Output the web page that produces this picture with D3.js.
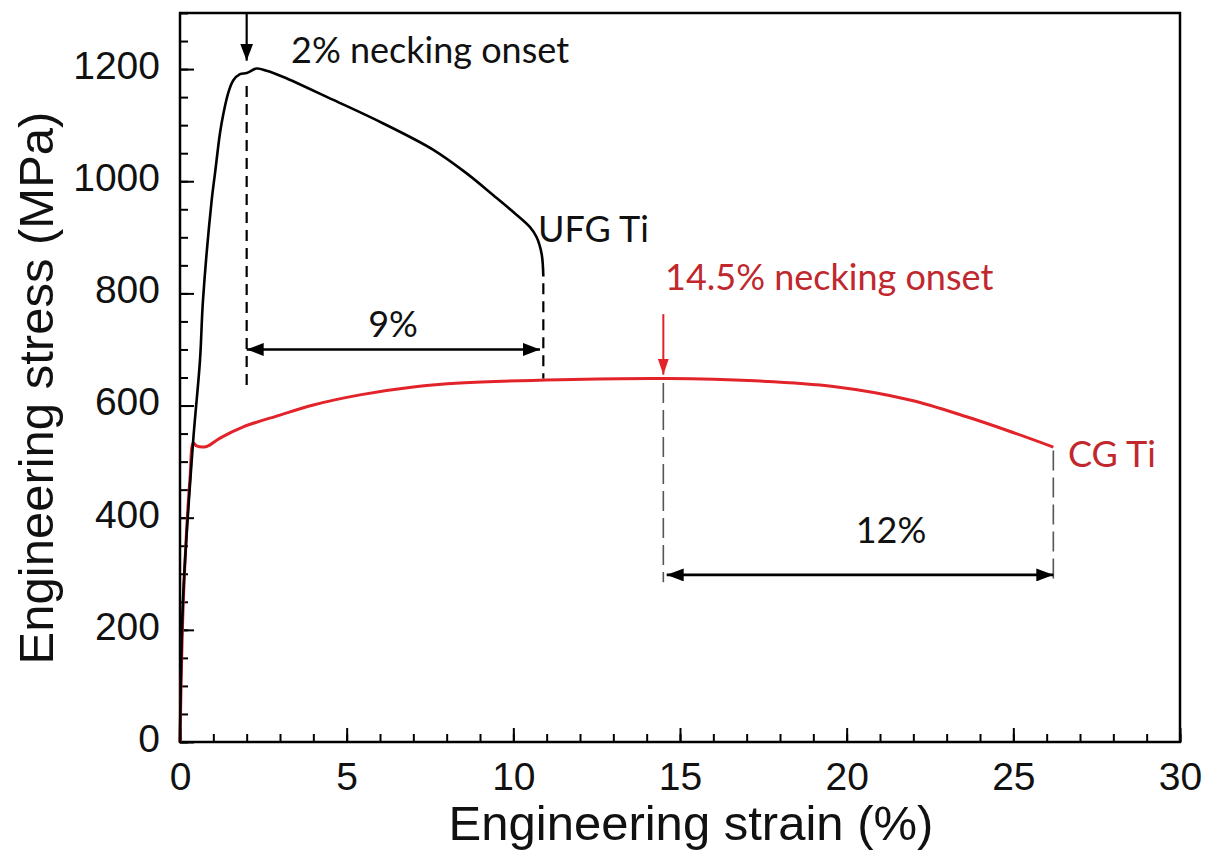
<!DOCTYPE html>
<html>
<head>
<meta charset="utf-8">
<script src="https://cdn.jsdelivr.net/npm/d3@7"></script>
<style>
  body { margin: 0; background: #fff; }
  svg { display: block; }
</style>
</head>
<body>
<svg id="chart" width="1207" height="858"></svg>
<script>
// stress-strain curves, UFG Ti vs CG Ti

const ufgStrain = [0, 0.09, 0.39, 0.6, 0.69, 0.95, 1.05, 1.2, 1.3, 1.45, 1.6, 1.8, 2.0, 2.3, 2.6, 3.1, 4.6, 6.1, 7.6, 8.6, 9.4, 10.0, 10.5, 10.7, 10.85, 10.9];
const ufgStress = [0, 253, 533, 681, 788, 966, 1014, 1086, 1120, 1158, 1180, 1191, 1193, 1201, 1197, 1186, 1145, 1103, 1056, 1014, 975, 945, 918, 900, 870, 830];

const cgStrain = [0, 0.05, 0.1, 0.2, 0.3, 0.4, 0.5, 0.8, 1.2, 1.9, 3.0, 4.0, 5.4, 7.0, 8.4, 11.4, 14.6, 17.25, 19.6, 21.9, 23.6, 24.8, 26.2];
const cgStress = [0, 150, 253, 380, 470, 533, 528, 527, 542, 562, 583, 601, 619, 633, 640, 646, 648, 644, 634, 610, 580, 556, 526];

const xTicks = [0, 5, 10, 15, 20, 25, 30];
const yTicks = [0, 200, 400, 600, 800, 1000, 1200];

// annotation positions (strain %)
const ufgNeck = 2, ufgEnd = 10.9;
const cgNeck = 14.5, cgEnd = 26.2;

const redLine = '#e2232a';
const redText = '#c0282e';

const svg = d3.select('#chart');
const x = d3.scaleLinear().domain([0, 30]).range([180, 1180]);
const y = d3.scaleLinear().domain([0, 1300]).range([742, 13]);

const defs = svg.append('defs');
function marker(id, color, w, h) {
  defs.append('marker')
    .attr('id', id)
    .attr('viewBox', `0 0 ${w} ${h}`)
    .attr('refX', w)
    .attr('refY', h / 2)
    .attr('markerWidth', w)
    .attr('markerHeight', h)
    .attr('markerUnits', 'userSpaceOnUse')
    .attr('orient', 'auto-start-reverse')
    .append('path')
    .attr('d', `M0,0L${w},${h / 2}L0,${h}Z`)
    .attr('fill', color);
}
marker('arrBlack', '#000', 17, 13);
marker('arrRed', redLine, 16, 11);

// axes with inward ticks
svg.append('g')
  .attr('transform', `translate(0,${y(0)})`)
  .call(d3.axisBottom(x).tickValues(d3.range(0, 31, 1)).tickSize(-8).tickFormat(''))
  .call(g => g.select('.domain').remove());
svg.append('g')
  .attr('transform', `translate(${x(0)},0)`)
  .call(d3.axisLeft(y).tickValues(d3.range(0, 1301, 50)).tickSize(-8).tickFormat(''))
  .call(g => g.select('.domain').remove());

const xAxis = svg.append('g')
  .attr('transform', `translate(0,${y(0)})`)
  .call(d3.axisBottom(x).tickValues(xTicks).tickSize(-14).tickPadding(20).tickFormat(d3.format('d')))
  .call(g => g.select('.domain').remove());
const yAxis = svg.append('g')
  .attr('transform', `translate(${x(0)},0)`)
  .call(d3.axisLeft(y).tickValues(yTicks).tickSize(-14).tickPadding(20).tickFormat(d3.format('d')))
  .call(g => g.select('.domain').remove());

[xAxis, yAxis].forEach(g => {
  g.selectAll('text')
    .attr('font-family', '"Liberation Sans", Arial, sans-serif')
    .attr('font-size', 39)
    .attr('fill', '#111');
});
svg.selectAll('.tick line').attr('stroke', '#000').attr('stroke-width', 2);
yAxis.selectAll('text').attr('dy', '0.24em');

svg.append('rect')
  .attr('x', x(0)).attr('y', y(1300))
  .attr('width', x(30) - x(0)).attr('height', y(0) - y(1300))
  .attr('fill', 'none').attr('stroke', '#000').attr('stroke-width', 2.5);

svg.append('text')
  .attr('x', 691).attr('y', 840)
  .attr('text-anchor', 'middle')
  .attr('font-family', '"Liberation Sans", Arial, sans-serif')
  .attr('font-size', 49)
  .attr('fill', '#111')
  .text('Engineering strain (%)');

svg.append('text')
  .attr('transform', 'translate(53,388) rotate(-90)')
  .attr('text-anchor', 'middle')
  .attr('font-family', '"Liberation Sans", Arial, sans-serif')
  .attr('font-size', 49)
  .attr('fill', '#111')
  .text('Engineering stress (MPa)');

// curves
const line = d3.line()
  .x(d => x(d[0]))
  .y(d => y(d[1]))
  .curve(d3.curveCatmullRom.alpha(0.5));

svg.append('path')
  .datum(cgStrain.map((s, i) => [s, cgStress[i]]))
  .attr('d', line)
  .attr('fill', 'none')
  .attr('stroke', redLine)
  .attr('stroke-width', 3);

svg.append('path')
  .datum(ufgStrain.map((s, i) => [s, ufgStress[i]]))
  .attr('d', line)
  .attr('fill', 'none')
  .attr('stroke', '#000')
  .attr('stroke-width', 2.6);

// dashed guide lines
const guides = [
  { s: ufgNeck, y1: 1170, y2: 625, color: '#000', w: 2.2, dash: '11,7' },
  { s: ufgEnd, y1: 818, y2: 648, color: '#000', w: 2.2, dash: '11,7' },
  { s: cgNeck, y1: 640, y2: 285, color: '#555', w: 1.6, dash: '20,7' },
  { s: cgEnd, y1: 520, y2: 285, color: '#555', w: 1.6, dash: '20,7' }
];
svg.selectAll('.guide')
  .data(guides)
  .enter()
  .append('line')
  .attr('class', 'guide')
  .attr('x1', d => x(d.s)).attr('x2', d => x(d.s))
  .attr('y1', d => y(d.y1)).attr('y2', d => y(d.y2))
  .attr('stroke', d => d.color)
  .attr('stroke-width', d => d.w)
  .attr('stroke-dasharray', d => d.dash);

// necking arrows
svg.append('line')
  .attr('x1', x(ufgNeck)).attr('x2', x(ufgNeck))
  .attr('y1', y(1300)).attr('y2', y(1215))
  .attr('stroke', '#000').attr('stroke-width', 2.2)
  .attr('marker-end', 'url(#arrBlack)');
svg.append('line')
  .attr('x1', x(cgNeck)).attr('x2', x(cgNeck))
  .attr('y1', y(763)).attr('y2', y(655))
  .attr('stroke', redLine).attr('stroke-width', 2)
  .attr('marker-end', 'url(#arrRed)');

// span arrows
const spans = [
  { a: ufgNeck, b: ufgEnd - 0.1, at: 700 },
  { a: cgNeck + 0.1, b: cgEnd, at: 298 }
];
svg.selectAll('.span')
  .data(spans)
  .enter()
  .append('line')
  .attr('class', 'span')
  .attr('x1', d => x(d.a)).attr('x2', d => x(d.b))
  .attr('y1', d => y(d.at)).attr('y2', d => y(d.at))
  .attr('stroke', '#000').attr('stroke-width', 2.6)
  .attr('marker-start', 'url(#arrBlack)')
  .attr('marker-end', 'url(#arrBlack)');

// labels
const labels = [
  { t: '2% necking onset', px: 291, py: 63, anchor: 'start', color: '#111' },
  { t: 'UFG Ti', px: 538, py: 242, anchor: 'start', color: '#111' },
  { t: '9%', px: 393, py: 337, anchor: 'middle', color: '#111' },
  { t: '14.5% necking onset', px: 665, py: 290, anchor: 'start', color: redText },
  { t: 'CG Ti', px: 1068, py: 467, anchor: 'start', color: redText },
  { t: '12%', px: 891, py: 543, anchor: 'middle', color: '#111' }
];
svg.selectAll('.lbl')
  .data(labels)
  .enter()
  .append('text')
  .attr('class', 'lbl')
  .attr('x', d => d.px)
  .attr('y', d => d.py)
  .attr('text-anchor', d => d.anchor)
  .attr('font-family', 'Lato, "Open Sans", sans-serif')
  .attr('font-size', 36)
  .attr('fill', d => d.color)
  .text(d => d.t);
</script>
</body>
</html>
